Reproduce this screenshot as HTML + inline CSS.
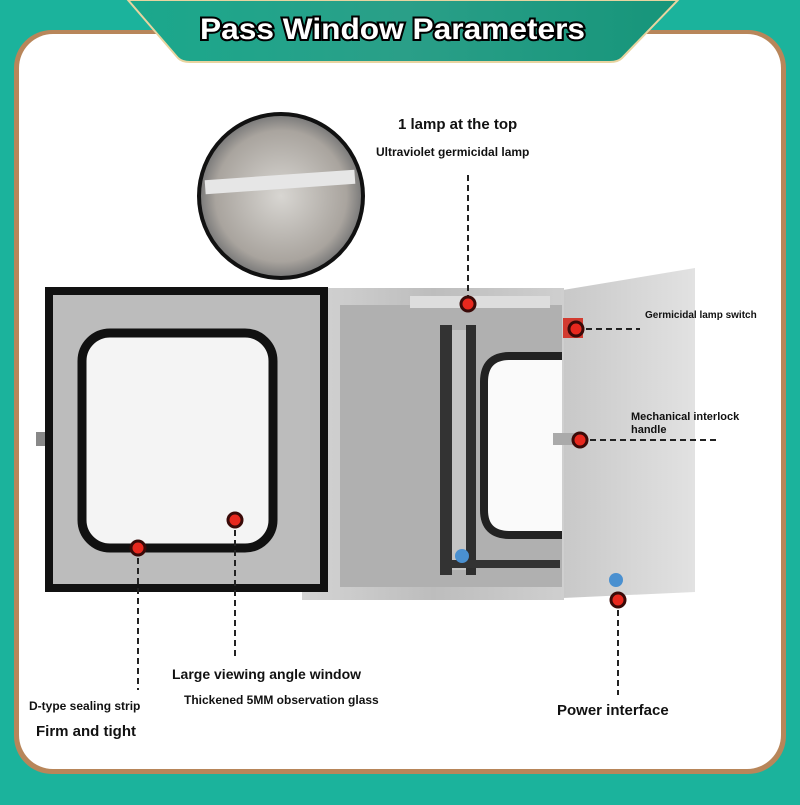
<!DOCTYPE html>
<html><head><style>
body{margin:0;width:800px;height:800px;overflow:hidden;background:#1bb39c;font-family:"Liberation Sans",sans-serif}
</style></head><body>
<svg width="800" height="800" viewBox="0 0 800 800" xmlns="http://www.w3.org/2000/svg">
<defs>
<linearGradient id="tab" x1="0" x2="1"><stop offset="0" stop-color="#1aa88c"/><stop offset=".5" stop-color="#2a9f88"/><stop offset="1" stop-color="#16957a"/></linearGradient>
<linearGradient id="steel" x1="0" x2="1"><stop offset="0" stop-color="#d4d4d4"/><stop offset=".5" stop-color="#bdbdbd"/><stop offset="1" stop-color="#cfcfcf"/></linearGradient>
<linearGradient id="side" x1="0" x2="1"><stop offset="0" stop-color="#c8c8c8"/><stop offset="1" stop-color="#e2e2e2"/></linearGradient>
<radialGradient id="lamp"><stop offset="0" stop-color="#d8d6d2"/><stop offset=".8" stop-color="#a9a49e"/><stop offset="1" stop-color="#777"/></radialGradient>
</defs>
<rect width="800" height="800" fill="#1bb39c"/>
<rect x="14" y="30" width="772" height="744" rx="38" fill="#b8865a"/>
<rect x="19" y="34" width="762" height="735" rx="34" fill="#fff"/>
<path d="M128 0 L678 0 L622 58 Q618 62 610 62 L190 62 Q182 62 178 58 Z" fill="url(#tab)" stroke="#e8d4a0" stroke-width="2"/>
<text x="200" y="39" textLength="385" lengthAdjust="spacingAndGlyphs" font-size="30" font-weight="bold" fill="#fff" stroke="#000" stroke-width="4" paint-order="stroke" font-family="Liberation Sans,sans-serif">Pass Window Parameters</text>
<circle cx="281" cy="196" r="82" fill="url(#lamp)" stroke="#111" stroke-width="4"/>
<rect x="205" y="175" width="150" height="14" fill="#e6e6e6" transform="rotate(-4 280 182)"/>
<polygon points="563,290 563,598 695,592 695,268" fill="url(#side)"/>
<rect x="302" y="288" width="262" height="312" fill="url(#steel)"/>
<rect x="340" y="305" width="222" height="282" fill="#b0b0b0"/>
<rect x="440" y="325" width="12" height="250" fill="#333"/>
<rect x="452" y="330" width="14" height="240" fill="#c4c4c4"/>
<rect x="466" y="325" width="10" height="250" fill="#2e2e2e"/>
<path d="M562 356 L510 356 Q484 356 484 382 L484 510 Q484 535 510 535 L562 535" fill="#fafafa" stroke="#222" stroke-width="8"/>
<rect x="410" y="296" width="140" height="12" fill="#ddd"/>
<rect x="440" y="560" width="120" height="8" fill="#333"/>
<rect x="563" y="318" width="20" height="20" fill="#d23b30"/>
<rect x="553" y="433" width="30" height="12" fill="#aaa"/>
<rect x="45" y="287" width="283" height="305" fill="#111"/>
<rect x="53" y="295" width="267" height="289" fill="#bcbcbc"/>
<rect x="82" y="333" width="191" height="215" rx="28" fill="#f4f4f4" stroke="#111" stroke-width="9"/>
<rect x="36" y="432" width="9" height="14" fill="#888"/>
<g stroke="#222" stroke-width="2" stroke-dasharray="6,4" fill="none">
<line x1="468" y1="175" x2="468" y2="302"/>
<line x1="576" y1="329" x2="640" y2="329"/>
<line x1="580" y1="440" x2="720" y2="440"/>
<line x1="138" y1="548" x2="138" y2="690"/>
<line x1="235" y1="520" x2="235" y2="660"/>
<line x1="618" y1="600" x2="618" y2="695"/>
</g>
<g fill="#e8281e" stroke="#3a0a08" stroke-width="3">
<circle cx="468" cy="304" r="7"/><circle cx="576" cy="329" r="7"/><circle cx="580" cy="440" r="7"/>
<circle cx="138" cy="548" r="7"/><circle cx="235" cy="520" r="7"/><circle cx="618" cy="600" r="7"/>
</g>
<circle cx="462" cy="556" r="7" fill="#4a90d0"/><circle cx="616" cy="580" r="7" fill="#4a90d0"/>
<g font-weight="bold" fill="#111" font-family="Liberation Sans,sans-serif">
<text x="398" y="129" font-size="15">1 lamp at the top</text>
<text x="376" y="156" font-size="12">Ultraviolet germicidal lamp</text>
<text x="645" y="318" font-size="10">Germicidal lamp switch</text>
<text x="631" y="420" font-size="11">Mechanical interlock</text>
<text x="631" y="433" font-size="11">handle</text>
<text x="172" y="679" font-size="14">Large viewing angle window</text>
<text x="184" y="704" font-size="12">Thickened 5MM observation glass</text>
<text x="29" y="710" font-size="12">D-type sealing strip</text>
<text x="36" y="736" font-size="15">Firm and tight</text>
<text x="557" y="715" font-size="15">Power interface</text>
</g>
</svg>
</body></html>
